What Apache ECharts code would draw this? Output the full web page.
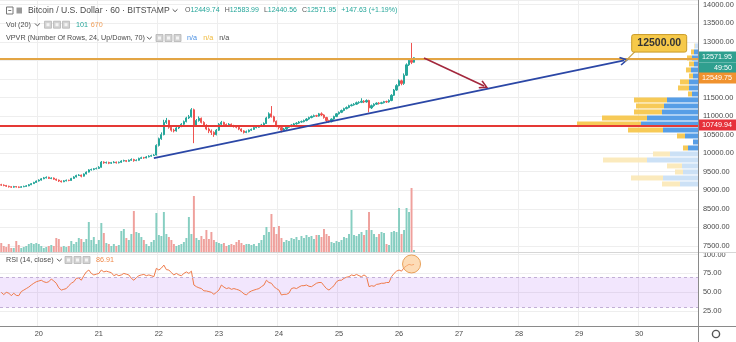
<!DOCTYPE html>
<html>
<head>
<meta charset="utf-8">
<script src="https://cdn.jsdelivr.net/npm/echarts@6.0.0/dist/echarts.min.js"></script>
<style>
html,body{margin:0;padding:0;background:#ffffff;}
#chart{width:736px;height:342px;}
</style>
</head>
<body>
<div id="chart"></div>
<script>
// ---------------- data ----------------
const startHourUTC = [2019, 5, 19, 9];      // first hourly slot: 19 Jun 09:00
const slotCount = 279;                      // hourly slots shown on the time axis
const dayLabels = ['20','21','22','23','24','25','26','27','28','29','30'];
const firstDayIndex = 15;                   // slot index of 20 Jun 00:00
const priceTicks = [7500,8000,8500,9000,9500,10000,10500,11000,11500,12000,12500,13000,13500,14000];
const rsiTicks = [25,50,75,100];

const firstOpen = 9150;
const closes = [
9140,9130,9110,9095,9085,9100,9090,9080,9095,9105,
9120,9150,9180,9210,9250,9275,9310,9335,9350,9320,
9330,9300,9275,9250,9230,9255,9270,9265,9320,9360,
9400,9410,9380,9440,9490,9550,9560,9580,9590,9620,
9760,9740,9750,9730,9745,9760,9740,9755,9790,9800,
9780,9810,9830,9800,9810,9860,9880,9870,9900,9920,
9935,9950,10210,10390,10500,10830,10880,10700,10620,10600,
10680,10720,10780,10850,10950,10980,11170,10760,10880,10940,
10830,10750,10650,10600,10560,10500,10620,10780,10830,10770,
10760,10780,10740,10720,10700,10650,10600,10560,10580,10620,
10640,10690,10700,10740,10760,10800,10950,11060,10980,10860,
10740,10690,10620,10650,10700,10720,10760,10790,10810,10840,
10850,10880,10920,10960,10990,11010,11000,11060,11030,10960,
10880,10850,10920,10990,11060,11100,11150,11200,11230,11280,
11300,11320,11360,11370,11400,11380,11420,11220,11280,11320,
11350,11340,11360,11390,11380,11420,11560,11700,11820,11950,
11880,12100,12380,12500,12449.74,12571.95];
const highs = [
9175,9160,9145,9125,9110,9120,9115,9105,9115,9125,
9140,9170,9195,9230,9265,9295,9330,9360,9375,9365,
9350,9345,9315,9290,9265,9275,9290,9285,9335,9380,
9420,9435,9425,9455,9510,9570,9585,9600,9615,9650,
9790,9780,9775,9770,9765,9785,9775,9775,9810,9825,
9815,9830,9860,9850,9835,9880,9905,9900,9925,9945,
9960,9975,10240,10420,10560,10900,10950,10900,10740,10660,
10710,10750,10810,10880,10980,11030,11215,11200,10920,10990,
10960,10860,10780,10690,10640,10590,10650,10810,10870,10850,
10800,10810,10800,10765,10745,10720,10670,10620,10610,10640,
10665,10710,10725,10760,10790,10830,10980,11100,11270,11010,
10880,10760,10710,10680,10720,10745,10780,10815,10835,10865,
10880,10905,10945,10985,11015,11040,11035,11085,11100,11050,
10980,10900,10940,11010,11080,11125,11175,11225,11260,11305,
11330,11350,11390,11400,11480,11430,11450,11440,11310,11345,
11370,11375,11385,11410,11415,11450,11590,11730,11860,11990,
11980,12150,12420,12540,12970,12583.99];
const lows = [
9120,9110,9090,9075,9065,9070,9075,9060,9070,9085,
9095,9110,9140,9170,9200,9235,9260,9300,9320,9305,
9300,9285,9255,9225,9210,9220,9240,9245,9255,9310,
9345,9385,9350,9370,9430,9480,9530,9540,9565,9575,
9610,9715,9720,9705,9710,9730,9720,9725,9740,9775,
9760,9770,9795,9770,9785,9800,9845,9850,9860,9885,
9905,9925,9940,10180,10360,10480,10790,10660,10580,10560,
10580,10650,10700,10760,10830,10920,10960,10270,10720,10850,
10800,10720,10620,10540,10490,10440,10480,10600,10750,10740,
10730,10740,10710,10690,10670,10620,10570,10530,10540,10560,
10600,10625,10670,10685,10720,10745,10790,10930,10960,10830,
10700,10640,10560,10590,10630,10680,10700,10740,10770,10790,
10820,10830,10860,10900,10940,10970,10975,10985,11000,10930,
10840,10820,10830,10900,10970,11040,11080,11130,11180,11210,
11260,11280,11300,11330,11350,11350,11360,11100,11190,11250,
11300,11310,11320,11340,11355,11360,11400,11540,11680,11800,
11830,11840,12080,12350,12400,12440.56];
const volumes = [
450,300,250,400,200,200,550,350,200,250,
300,400,450,400,450,400,300,200,250,300,
350,300,700,650,250,300,250,300,550,400,
500,700,650,500,650,1500,600,750,400,600,
1450,950,450,400,300,400,300,350,1050,1150,
700,600,900,2050,1000,950,750,600,400,300,
500,600,1950,850,800,2000,900,750,600,400,
300,350,400,500,700,1750,900,2800,700,600,
800,650,1100,650,1000,600,500,450,400,450,
300,350,400,350,500,600,450,350,400,400,
350,400,300,450,600,850,1250,1000,1900,1250,
900,1300,700,500,600,550,700,650,750,600,
800,700,850,750,800,650,850,850,750,1150,
900,800,500,450,550,500,600,750,700,900,
2100,850,800,900,1000,850,1100,2000,1100,900,
750,900,1000,950,400,350,1000,1050,1000,2200,
900,1100,2200,2000,3200,101];
const rsiValues = [
50,47,50,49,45.6,48.8,46,45.6,51,53,
55,57,59.7,62,64,65,66,64,63,64,
67.6,65,62,56,53,54,55,58.8,62,64,
68.5,69,66,72,77,79.5,75,73,74,75,
79.5,77,78,77,76,72,73.7,72,73,75,
74,73,68.5,66,69.4,72,73,73.7,72,73,
72,70.7,81.7,79.5,82,86,80,79.5,76,73,
75,73,72,75,77,75,78,59.7,57.5,56,
55,52,51.8,51,50,47.4,50,53,59.7,57,
55,56,54,55,54,53,51,48,46.5,50,
51.8,53,54,55,57.5,59.7,66,63,62,57.5,
55,53,46.5,47.4,47.4,49,55,56,55,57,
58.8,58.8,59.7,58,57.5,59.7,62,63,63,58.8,
55,53,56,58.8,64,66,66,68.5,70,70.7,
73,72,73.7,72,70.7,73,70.7,57.5,58.8,58,
60.5,61,62,62,63,63,70.7,75,78,79.5,
78,82.6,85,87,86,86.91];
// volume profile: 24 rows, bottom (row 0) to top
const vpvrUp   = [1800,3500,1500,1600,5100,2800,1000,500,1300,3500,5700,5100,3600,3400,3100,600,900,900,500,700,400,600,400,300];
const vpvrDown = [1800,3200,800,1500,4400,1700,500,0,800,3500,6400,4500,2800,2800,3300,400,1100,900,400,500,500,500,300,100];
const vpvrRange = [9090, 12970];
const vpvrValueArea = [6, 22];

const lastPrice = 12571.95;
const levelPrice = 12549.75;
const supportPrice = 10749.94;
const trendLine = [[61, 9870], [249, 12500]];
const targetArrow = [[169, 12564], [193, 11810]];
const rsiMarker = [164, 87.5];
const calloutText = '12500.00';
const countdownText = '49:50';
const volHeader = ['101', '670'];
const rsiHeader = '86.91';
const ohlcHeader = [['O','12449.74'],['H','12583.99'],['L','12440.56'],['C','12571.95']];
const changeHeader = '+147.63 (+1.19%)';

// ---------------- build ----------------
const FONT = '"Liberation Sans", Arial, sans-serif';
const slots = [];
const t0 = Date.UTC.apply(null, startHourUTC);
for (let i = 0; i < slotCount; i++) slots.push(new Date(t0 + i * 3600e3).toISOString().slice(0, 13));
const isDayStart = (i) => i >= firstDayIndex && (i - firstDayIndex) % 24 === 0;

const UP = '#26a69a', DOWN = '#ef5350';
const candles = closes.map((c, i) => [i === 0 ? firstOpen : closes[i - 1], c, lows[i], highs[i]]);
const volData = volumes.map((v, i) => ({value: v, itemStyle: {color: candles[i][1] >= candles[i][0] ? '#86cec1' : '#efa09c'}}));
const vpvrStep = (vpvrRange[1] - vpvrRange[0]) / vpvrUp.length;
const vpvrData = vpvrUp.map((u, i) => [i, u, vpvrDown[i]]);

const PMIN = 7338, PMAX = 14127;
const chevron = 'path://M5,0 L10,8.6 L8.6,9.6 L5,3.4 L1.4,9.6 L0,8.6 Z';
const gridCol = '#eeeeee';

const chart = echarts.init(document.getElementById('chart'), null, {width: 736, height: 342});

const option = {
  animation: false,
  backgroundColor: '#ffffff',
  textStyle: {fontFamily: FONT},
  grid: [
    {left: 0, top: 0, width: 698, height: 252, containLabel: false, outerBoundsMode: 'none'},
    {left: 0, top: 152, width: 698, height: 100, containLabel: false, outerBoundsMode: 'none'},
    {left: 0, top: 0, width: 698, height: 252, containLabel: false, outerBoundsMode: 'none'},
    {left: 0, top: 252, width: 698, height: 74, containLabel: false, outerBoundsMode: 'none'}
  ],
  xAxis: [
    {type: 'category', gridIndex: 0, data: slots, boundaryGap: true,
      axisLine: {show: false}, axisTick: {show: false}, axisLabel: {show: false},
      splitLine: {show: true, interval: (i) => isDayStart(i), lineStyle: {color: gridCol, width: 1}}},
    {type: 'category', gridIndex: 1, data: slots, boundaryGap: true, show: false},
    {type: 'value', gridIndex: 2, min: 0, max: 69800, inverse: true, show: false},
    {type: 'category', gridIndex: 3, data: slots, boundaryGap: true,
      axisLine: {show: false}, axisTick: {show: false},
      axisLabel: {interval: (i) => isDayStart(i), formatter: (v, i) => dayLabels[(i - firstDayIndex) / 24] || '',
        color: '#4a4a4a', fontSize: 7.4, margin: 4, fontFamily: FONT},
      splitLine: {show: true, interval: (i) => isDayStart(i), lineStyle: {color: gridCol, width: 1}}}
  ],
  yAxis: [
    {type: 'value', gridIndex: 0, position: 'right', min: PMIN, max: PMAX, splitNumber: 14, minInterval: 500, maxInterval: 500,
      axisLine: {show: false}, axisTick: {show: false},
      axisLabel: {formatter: (v) => priceTicks.indexOf(Math.round(v)) >= 0 && Math.abs(v - Math.round(v)) < 1e-6 ? v.toFixed(2) : '',
        color: '#4a4a4a', fontSize: 7.4, margin: 5, fontFamily: FONT},
      splitLine: {show: true, lineStyle: {color: gridCol, width: 1}}},
    {type: 'value', gridIndex: 1, min: 0, max: 5000, show: false},
    {type: 'value', gridIndex: 2, min: PMIN, max: PMAX, show: false},
    {type: 'value', gridIndex: 3, position: 'right', min: 5.55, max: 103.3, splitNumber: 4, minInterval: 25, maxInterval: 25,
      axisLine: {show: false}, axisTick: {show: false},
      axisLabel: {formatter: (v) => rsiTicks.indexOf(v) >= 0 ? v.toFixed(2) : '',
        color: '#4a4a4a', fontSize: 7.4, margin: 5, fontFamily: FONT},
      splitLine: {show: true, lineStyle: {color: gridCol, width: 1}}}
  ],
  series: [
    {type: 'line', name: 'levels', xAxisIndex: 0, yAxisIndex: 0, data: [], z: 1, silent: true,
      markLine: {silent: true, symbol: 'none', label: {show: false}, animation: false,
        data: [
          {yAxis: levelPrice, lineStyle: {color: '#e3a544', width: 2, type: 'solid'}},
          {yAxis: supportPrice, lineStyle: {color: '#e53935', width: 2, type: 'solid'}}
        ]}},
    {type: 'bar', name: 'vol', xAxisIndex: 1, yAxisIndex: 1, data: volData, barWidth: '78%', z: 1, silent: true},
    {type: 'custom', name: 'vpvr', xAxisIndex: 2, yAxisIndex: 2, data: vpvrData, z: 3, silent: true,
      renderItem: function (params, api) {
        const i = api.value(0), up = api.value(1), dn = api.value(2);
        const lo = vpvrRange[0] + i * vpvrStep, hi = lo + vpvrStep;
        const p0 = api.coord([0, hi]);
        const p1 = api.coord([up, lo]);
        const p2 = api.coord([up + dn, lo]);
        const inVA = i >= vpvrValueArea[0] && i <= vpvrValueArea[1];
        const top = p0[1] + 0.5, h = p1[1] - p0[1] - 1;
        const ch = [];
        if (up > 0) ch.push({type: 'rect', shape: {x: p1[0], y: top, width: p0[0] - p1[0], height: h},
          style: {fill: inVA ? '#4593e3' : '#c7def5', opacity: 0.9}});
        if (dn > 0) ch.push({type: 'rect', shape: {x: p2[0], y: top, width: p1[0] - p2[0], height: h},
          style: {fill: inVA ? '#f6c445' : '#fbe8b6', opacity: 0.9}});
        return {type: 'group', children: ch};
      }},
    {type: 'candlestick', name: 'BTCUSD', xAxisIndex: 0, yAxisIndex: 0, data: candles, barWidth: 1.6, z: 4, silent: true,
      itemStyle: {color: UP, color0: DOWN, borderColor: UP, borderColor0: DOWN, borderWidth: 1}},
    {type: 'line', name: 'drawings', xAxisIndex: 0, yAxisIndex: 0, data: [], z: 6, silent: true,
      markLine: {silent: true, animation: false, symbol: ['none', chevron], symbolSize: [9, 9], label: {show: false},
        data: [
          [{coord: trendLine[0], lineStyle: {color: '#2b47a6', width: 1.8, type: 'solid'}, itemStyle: {color: '#2b47a6'}}, {coord: trendLine[1]}],
          [{coord: targetArrow[0], lineStyle: {color: '#a3283d', width: 1.6, type: 'solid'}, itemStyle: {color: '#a3283d'}}, {coord: targetArrow[1]}]
        ]}},
    {type: 'line', name: 'RSI', xAxisIndex: 3, yAxisIndex: 3, data: rsiValues, symbol: 'none', z: 3, silent: true,
      lineStyle: {color: '#ef7b4b', width: 1},
      markArea: {silent: true, itemStyle: {color: 'rgba(160,80,240,0.14)'}, data: [[{yAxis: 30}, {yAxis: 70}]]},
      markLine: {silent: true, symbol: 'none', label: {show: false}, animation: false,
        lineStyle: {color: '#c2afd6', type: [3, 3], width: 1}, data: [{yAxis: 30}, {yAxis: 70}]},
      markPoint: {silent: true, symbol: 'circle', symbolSize: 18, label: {show: false}, animation: false,
        itemStyle: {color: 'rgba(252,196,135,0.6)', borderColor: '#e8a057', borderWidth: 1},
        data: [{coord: rsiMarker}]}}
  ]
};
chart.setOption(option);

// ---------------- overlay texts, tags, callout ----------------
const g = [];
const measure = document.createElement('canvas').getContext('2d');
function tw(text, size, weight) { measure.font = (weight || 'normal') + ' ' + size + 'px ' + FONT; return measure.measureText(text).width; }
function txt(x, y, text, color, size, weight, align, z) {
  g.push({type: 'text', x: x, y: y, z: z || 100, silent: true,
    style: {text: text, fill: color, font: (weight || 'normal') + ' ' + size + 'px ' + FONT,
      align: align || 'left', verticalAlign: 'middle', textAlign: align || 'left', textVerticalAlign: 'middle'}});
}
function chev(x, y) {
  g.push({type: 'polyline', z: 100, silent: true, shape: {points: [[x, y - 1.2], [x + 2.4, y + 1.2], [x + 4.8, y - 1.2]]},
    style: {stroke: '#555', lineWidth: 1, fill: null}});
}
function icons(x, y) {
  for (let k = 0; k < 3; k++) {
    g.push({type: 'rect', z: 100, silent: true, shape: {x: x + k * 9, y: y - 3.5, width: 7, height: 7},
      style: {fill: '#d3d3d3', stroke: '#b5b5b5', lineWidth: 0.8}});
    g.push({type: 'rect', z: 101, silent: true, shape: {x: x + k * 9 + 2, y: y - 1.5, width: 3, height: 3},
      style: {fill: '#f4f4f4'}});
  }
}
// line 1
g.push({type: 'rect', z: 100, silent: true, shape: {x: 6.5, y: 7, width: 6.5, height: 7}, style: {fill: null, stroke: '#777', lineWidth: 1}});
g.push({type: 'line', z: 100, silent: true, shape: {x1: 8.3, y1: 10.5, x2: 11.3, y2: 10.5}, style: {stroke: '#777', lineWidth: 1}});
g.push({type: 'rect', z: 100, silent: true, shape: {x: 16.5, y: 7.5, width: 5.5, height: 6}, style: {fill: '#9a9a9a'}});
const title = 'Bitcoin / U.S. Dollar · 60 · BITSTAMP';
txt(28, 10.5, title, '#4a4a4a', 8.6);
chev(28 + tw(title, 8.6) + 3, 10.5);
let ox = 185;
ohlcHeader.forEach(function (p) {
  txt(ox, 10.5, p[0], '#5a5a5a', 7); ox += tw(p[0], 7);
  txt(ox, 10.5, p[1], '#26a69a', 7); ox += tw(p[1], 7) + 5;
});
txt(ox, 10.5, changeHeader, '#26a69a', 7);
// line 2
txt(6, 24.7, 'Vol (20)', '#4a4a4a', 7.2); chev(35, 24.7); icons(44.5, 24.7);
txt(76, 24.7, volHeader[0], '#26a69a', 7.2); txt(90.7, 24.7, volHeader[1], '#f0a05c', 7.2);
// line 3
txt(6, 38, 'VPVR (Number Of Rows, 24, Up/Down, 70)', '#4a4a4a', 7.2); chev(147, 38); icons(156, 38);
txt(187, 38, 'n/a', '#4a90e2', 7.2); txt(203.3, 38, 'n/a', '#f0b93a', 7.2); txt(219.3, 38, 'n/a', '#4a4a4a', 7.2);
// RSI header
txt(6, 260, 'RSI (14, close)', '#4a4a4a', 7.2); chev(57, 260); icons(65, 260);
txt(96, 260, rsiHeader, '#f08a4b', 7.2);

// frame lines
g.push({type: 'line', z: 90, silent: true, shape: {x1: 0, y1: 252.5, x2: 736, y2: 252.5}, style: {stroke: '#d6d6d6', lineWidth: 1}});
g.push({type: 'line', z: 90, silent: true, shape: {x1: 0, y1: 326.5, x2: 736, y2: 326.5}, style: {stroke: '#8a8a8a', lineWidth: 1}});
g.push({type: 'line', z: 90, silent: true, shape: {x1: 698.5, y1: 0, x2: 698.5, y2: 342}, style: {stroke: '#8a8a8a', lineWidth: 1}});
// gear icon
g.push({type: 'circle', z: 100, silent: true, shape: {cx: 716, cy: 334, r: 3.6}, style: {fill: '#fff', stroke: '#555', lineWidth: 1.4}});

// price tags
const pyLast = chart.convertToPixel({yAxisIndex: 0}, lastPrice);
const pySup = chart.convertToPixel({yAxisIndex: 0}, supportPrice);
function tag(cy, text, bg, right) {
  g.push({type: 'rect', z: 110, silent: true, shape: {x: 699, y: cy - 5.5, width: 37, height: 11}, style: {fill: bg}});
  if (right) txt(732, cy + 0.3, text, '#ffffff', 7.2, 'normal', 'right', 120);
  else txt(702, cy + 0.3, text, '#ffffff', 7.2, 'normal', 'left', 120);
}
tag(pyLast - 0.8, lastPrice.toFixed(2), '#2f9f8f');
tag(pyLast + 10.2, countdownText, '#2f9f8f', true);
tag(pyLast + 20.2, levelPrice.toFixed(2), '#f0922e');
tag(pySup - 0.3, supportPrice.toFixed(2), '#e6303a');

// callout box at the trend line target
const a = chart.convertToPixel({gridIndex: 0}, trendLine[1]);
g.push({type: 'line', z: 108, silent: true, shape: {x1: a[0] + 11, y1: a[1] - 9, x2: a[0] + 1, y2: a[1] + 1}, style: {stroke: '#c9a44a', lineWidth: 1.3}});
g.push({type: 'rect', z: 109, silent: true, shape: {x: a[0] + 7.5, y: a[1] - 25.8, width: 55, height: 17.5, r: 2},
  style: {fill: '#f6c94a', stroke: '#c99a25', lineWidth: 1}});
txt(a[0] + 35, a[1] - 16.8, calloutText, '#333333', 10.5, 'bold', 'center', 120);

chart.setOption({graphic: {elements: g}});
</script>
</body>
</html>
